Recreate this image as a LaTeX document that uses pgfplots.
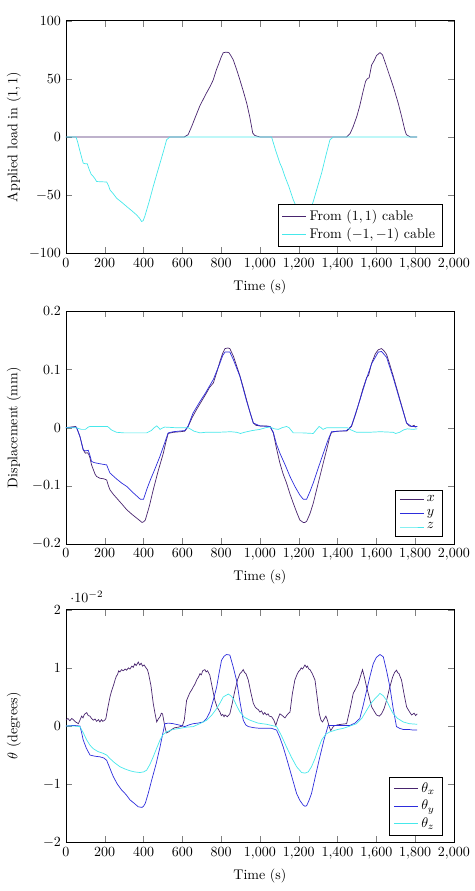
\documentclass[border=0pt]{standalone}
\usepackage{pgfplots}
\pgfplotsset{compat=1.18}

\definecolor{cpurple}{RGB}{72,36,110}
\definecolor{cblue}{RGB}{45,45,220}
\definecolor{ccyan}{RGB}{70,232,235}

\pgfplotsset{
  testaxis/.style={
    scale only axis,
    width=277.1pt, height=166.1pt,
    xmin=0, xmax=2000,
    xtick={0,200,...,2000},
    xlabel={Time (s)},
    ylabel style={at={(axis description cs:-0.134,0.5)}, anchor=center},
    legend style={at={(0.97,0.03)}, anchor=south east, legend cell align=left},
    every axis plot/.append style={no markers, line width=0.5pt},
  }
}

\begin{document}
\begin{tikzpicture}

% ---- Applied cable loads ----
\begin{axis}[testaxis, at={(0pt,0pt)}, anchor=south west,
  ymin=-100, ymax=100, ytick={-100,-50,0,50,100},
  ylabel={Applied load in $(1,1)$}]
\addplot[cpurple] coordinates {
(0,0) (610,0) (630,2) (648,9) (674,20) (691,27) (725,38) (745,44) (759,49)
(776,58) (790,64) (801,69) (811,72.5) (828,73) (840,72.5) (850,70) (862,66.5)
(880,58) (897,49) (915,39) (932,29) (948,17) (963,3.4) (972,1.5) (983,0.8)
(1000,0) (1447,0) (1465,3) (1481,9) (1500,18) (1515,27) (1530,38) (1545,48)
(1553,50) (1563,51) (1576,62) (1590,66) (1601,70) (1619,72.6) (1632,70.6)
(1650,62) (1670,52) (1690,42) (1713,29) (1730,18) (1747,6) (1755,2) (1765,1)
(1775,0) (1811,0)
};
\addlegendentry{From $(1,1)$ cable}
\addplot[ccyan] coordinates {
(0,0) (52,0) (60,-4) (72,-12) (89,-22.5) (100,-23) (110,-23) (120,-28)
(130,-32) (141,-34) (150,-36) (158,-38.3) (180,-38.5) (210,-38.7) (220,-42)
(227,-45.5) (245,-49) (261,-52.6) (290,-56.5) (313,-59.8) (340,-63.5)
(364,-67) (380,-70) (390,-72.7) (398,-72) (407,-68) (430,-55) (450,-42.6)
(470,-31) (485,-22.5) (505,-11) (519,-2.4) (536,0) (1060,0) (1080,-11)
(1103,-22.5) (1115,-27) (1129,-34) (1150,-43) (1172,-54) (1195,-63)
(1215,-70) (1232,-73) (1245,-70) (1260,-63) (1275,-55.5) (1295,-44)
(1318,-31) (1340,-16) (1361,-2.4) (1378,0) (1811,0)
};
\addlegendentry{From $(-1,-1)$ cable}
\end{axis}

% ---- Displacements ----
\begin{axis}[testaxis, at={(0pt,-207.6pt)}, anchor=south west,
  ymin=-0.2, ymax=0.2, ytick={-0.2,-0.1,0,0.1,0.2},
  ylabel={Displacement (mm)}]
\addplot[cpurple] coordinates {
(0,0) (50,0.002) (55,0) (72,-0.015) (89,-0.038) (100,-0.044) (110,-0.043)
(118,-0.046) (124,-0.052) (132,-0.064) (141,-0.072) (150,-0.080) (158,-0.084)
(175,-0.087) (195,-0.088) (210,-0.090) (218,-0.099) (227,-0.107) (245,-0.115)
(261,-0.121) (290,-0.132) (313,-0.141) (340,-0.149) (366,-0.156) (385,-0.161)
(392,-0.163) (400,-0.162) (409,-0.159) (430,-0.135) (450,-0.107) (475,-0.075)
(502,-0.044) (515,-0.025) (527,-0.010) (553,-0.008) (590,-0.007) (613,-0.006)
(630,0.002) (650,0.017) (673,0.031) (700,0.046) (725,0.060) (740,0.069)
(760,0.077) (780,0.098) (794,0.114) (808,0.128) (820,0.136) (835,0.137)
(845,0.136) (863,0.123) (880,0.106) (897,0.089) (915,0.068) (931,0.048)
(950,0.025) (966,0.008) (980,0.004) (1000,0.003) (1030,0.003) (1052,0.002)
(1069,-0.009) (1085,-0.035) (1103,-0.061) (1120,-0.080) (1137,-0.095)
(1155,-0.114) (1172,-0.130) (1190,-0.146) (1206,-0.159) (1223,-0.163)
(1232,-0.163) (1241,-0.161) (1258,-0.148) (1275,-0.130) (1292,-0.107)
(1309,-0.084) (1327,-0.060) (1344,-0.038) (1360,-0.016) (1369,-0.008)
(1400,-0.006) (1447,-0.006) (1472,0.002) (1495,0.025) (1515,0.048)
(1530,0.066) (1550,0.086) (1560,0.090) (1576,0.111) (1595,0.127)
(1610,0.134) (1627,0.136) (1640,0.132) (1653,0.126) (1670,0.108)
(1687,0.089) (1705,0.068) (1722,0.048) (1740,0.027) (1756,0.008)
(1770,0.003) (1782,0.002) (1795,0.004) (1800,0.001) (1811,0.002)
};
\addlegendentry{$x$}
\addplot[cblue] coordinates {
(0,0) (50,0.001) (55,0) (72,-0.015) (89,-0.038) (100,-0.040) (115,-0.039)
(124,-0.048) (132,-0.058) (145,-0.060) (158,-0.061) (190,-0.063) (210,-0.064)
(218,-0.071) (227,-0.078) (260,-0.088) (290,-0.096) (313,-0.101) (350,-0.113)
(383,-0.123) (400,-0.123) (418,-0.105) (435,-0.090) (460,-0.070) (485,-0.049)
(505,-0.030) (527,-0.009) (553,-0.007) (613,-0.005) (630,0.003) (655,0.025)
(691,0.045) (720,0.060) (760,0.083) (794,0.111) (808,0.124) (820,0.130)
(845,0.130) (863,0.117) (897,0.088) (931,0.046) (966,0.008) (1000,0.003)
(1052,0.002) (1069,-0.008) (1085,-0.028) (1103,-0.044) (1130,-0.064)
(1155,-0.084) (1180,-0.101) (1206,-0.116) (1223,-0.123) (1241,-0.123)
(1258,-0.110) (1275,-0.095) (1300,-0.070) (1327,-0.044) (1350,-0.022)
(1369,-0.007) (1447,-0.005) (1472,0.003) (1515,0.047) (1550,0.085)
(1576,0.110) (1610,0.130) (1627,0.131) (1653,0.121) (1687,0.086)
(1722,0.046) (1756,0.008) (1782,0.002) (1811,0.002)
};
\addlegendentry{$y$}
\addplot[ccyan] coordinates {
(0,0) (50,0) (60,-0.001) (80,-0.003) (100,-0.003) (115,0.001) (124,0.002)
(200,0.002) (215,0.002) (235,-0.004) (261,-0.008) (300,-0.009) (350,-0.009)
(416,-0.009) (440,-0.005) (455,0.000) (468,0.003) (478,0.000) (485,-0.003)
(495,-0.001) (510,0.001) (560,0.000) (630,0.000) (660,-0.006) (691,-0.009)
(720,-0.008) (780,-0.008) (850,-0.007) (880,-0.008) (900,-0.010) (920,-0.008)
(960,-0.005) (1000,-0.003) (1030,0.000) (1052,0.001) (1075,-0.002)
(1095,-0.003) (1115,0.000) (1137,0.002) (1150,0.000) (1172,-0.009)
(1220,-0.009) (1275,-0.010) (1290,-0.004) (1305,0.002) (1315,0.000)
(1325,-0.003) (1345,0.000) (1400,0.000) (1450,0.000) (1470,-0.004)
(1498,-0.008) (1560,-0.008) (1620,-0.007) (1687,-0.008) (1700,-0.010)
(1720,-0.008) (1740,-0.004) (1760,-0.002) (1790,-0.003) (1811,-0.002)
};
\addlegendentry{$z$}
\end{axis}

% ---- Rotations ----
\begin{axis}[testaxis, at={(0pt,-420.7pt)}, anchor=south west,
  ymin=-0.02, ymax=0.02, ytick={-0.02,-0.01,0,0.01,0.02},
  ylabel={$\theta$ (degrees)}]
\addplot[cpurple] coordinates {
(0,0.10e-2) (10,0.13e-2) (20,0.09e-2) (30,0.13e-2) (38,0.11e-2) (50,0.07e-2)
(64,0.04e-2) (72,0.10e-2) (81,0.17e-2) (88,0.14e-2) (95,0.20e-2)
(107,0.23e-2) (115,0.18e-2) (124,0.17e-2) (132,0.13e-2) (141,0.10e-2)
(150,0.12e-2) (158,0.08e-2) (168,0.11e-2) (175,0.07e-2) (183,0.11e-2)
(190,0.08e-2) (200,0.10e-2) (206,0.13e-2) (215,0.30e-2) (227,0.50e-2)
(235,0.60e-2) (240,0.65e-2) (247,0.72e-2) (253,0.79e-2) (260,0.86e-2)
(265,0.88e-2) (272,0.95e-2) (278,0.93e-2) (287,0.97e-2) (295,0.95e-2)
(305,0.98e-2) (313,0.96e-2) (322,1.00e-2) (330,0.98e-2) (340,1.03e-2)
(347,1.01e-2) (355,1.07e-2) (362,1.04e-2) (373,1.10e-2) (380,1.05e-2)
(388,1.08e-2) (395,1.03e-2) (403,1.05e-2) (413,1.00e-2) (420,0.97e-2)
(426,0.90e-2) (438,0.70e-2) (450,0.39e-2) (460,0.20e-2) (468,0.07e-2)
(476,0.12e-2) (485,0.16e-2) (492,0.22e-2) (498,0.21e-2) (505,0.08e-2)
(510,-0.01e-2) (518,-0.12e-2) (530,-0.10e-2) (545,-0.06e-2) (560,-0.03e-2)
(580,-0.02e-2) (600,0.00e-2) (610,0.10e-2) (622,0.44e-2) (632,0.52e-2)
(640,0.58e-2) (648,0.62e-2) (656,0.67e-2) (665,0.72e-2) (675,0.80e-2)
(683,0.84e-2) (691,0.90e-2) (698,0.88e-2) (705,0.95e-2) (716,0.97e-2)
(723,0.93e-2) (730,0.95e-2) (742,0.87e-2) (755,0.65e-2) (768,0.44e-2)
(780,0.32e-2) (787,0.28e-2) (794,0.24e-2) (801,0.18e-2) (808,0.20e-2)
(815,0.16e-2) (820,0.19e-2) (832,0.16e-2) (845,0.21e-2) (858,0.40e-2)
(871,0.61e-2) (885,0.80e-2) (897,0.90e-2) (906,0.93e-2) (914,0.97e-2)
(921,0.92e-2) (928,0.90e-2) (940,0.79e-2) (953,0.58e-2) (966,0.39e-2)
(975,0.33e-2) (983,0.30e-2) (992,0.28e-2) (1000,0.24e-2) (1008,0.26e-2)
(1017,0.20e-2) (1025,0.23e-2) (1034,0.19e-2) (1042,0.21e-2) (1048,0.17e-2)
(1060,0.16e-2) (1072,0.10e-2) (1082,0.01e-2) (1092,0.12e-2) (1103,0.21e-2)
(1115,0.18e-2) (1129,0.14e-2) (1142,0.20e-2) (1155,0.24e-2) (1167,0.55e-2)
(1180,0.79e-2) (1193,0.90e-2) (1200,0.94e-2) (1206,0.96e-2) (1213,1.00e-2)
(1220,0.98e-2) (1232,1.05e-2) (1240,1.01e-2) (1245,1.03e-2) (1252,0.98e-2)
(1258,0.97e-2) (1270,0.90e-2) (1284,0.79e-2) (1295,0.50e-2) (1306,0.21e-2)
(1315,0.10e-2) (1323,0.07e-2) (1331,0.12e-2) (1340,0.17e-2) (1348,0.10e-2)
(1357,-0.01e-2) (1365,-0.08e-2) (1380,0.00e-2) (1400,0.02e-2) (1420,0.03e-2)
(1447,0.04e-2) (1465,0.30e-2) (1481,0.56e-2) (1495,0.65e-2) (1507,0.73e-2)
(1518,0.85e-2) (1529,0.97e-2) (1540,0.82e-2) (1550,0.67e-2) (1563,0.50e-2)
(1576,0.33e-2) (1590,0.25e-2) (1601,0.19e-2) (1615,0.17e-2) (1627,0.21e-2)
(1640,0.30e-2) (1653,0.44e-2) (1668,0.65e-2) (1684,0.84e-2) (1694,0.92e-2)
(1704,0.96e-2) (1710,0.92e-2) (1717,0.90e-2) (1730,0.79e-2) (1743,0.55e-2)
(1756,0.33e-2) (1770,0.25e-2) (1782,0.19e-2) (1795,0.22e-2) (1803,0.18e-2)
(1811,0.21e-2)
};
\addlegendentry{$\theta_x$}
\addplot[cblue] coordinates {
(0,0) (40,0.01e-2) (72,0.00e-2) (80,-0.10e-2) (89,-0.24e-2) (105,-0.38e-2)
(124,-0.50e-2) (150,-0.52e-2) (175,-0.53e-2) (195,-0.55e-2) (210,-0.59e-2)
(227,-0.73e-2) (244,-0.87e-2) (265,-1.00e-2) (287,-1.10e-2) (310,-1.18e-2)
(330,-1.27e-2) (352,-1.33e-2) (373,-1.39e-2) (392,-1.40e-2) (400,-1.38e-2)
(409,-1.33e-2) (425,-1.15e-2) (442,-0.93e-2) (465,-0.65e-2) (485,-0.36e-2)
(498,-0.15e-2) (510,0.04e-2) (530,0.05e-2) (553,0.04e-2) (580,0.02e-2)
(613,-0.01e-2) (635,0.02e-2) (656,0.04e-2) (680,0.05e-2) (708,0.07e-2)
(725,0.13e-2) (742,0.24e-2) (760,0.45e-2) (777,0.67e-2) (790,0.92e-2)
(802,1.13e-2) (815,1.20e-2) (828,1.23e-2) (845,1.22e-2) (862,1.02e-2)
(880,0.78e-2) (897,0.42e-2) (914,0.10e-2) (927,0.02e-2) (940,-0.01e-2)
(970,-0.03e-2) (1000,-0.04e-2) (1030,-0.04e-2) (1060,-0.04e-2)
(1086,-0.07e-2) (1103,-0.20e-2) (1120,-0.36e-2) (1137,-0.55e-2)
(1155,-0.76e-2) (1172,-0.96e-2) (1189,-1.16e-2) (1206,-1.28e-2)
(1223,-1.36e-2) (1232,-1.38e-2) (1241,-1.37e-2) (1253,-1.28e-2)
(1266,-1.16e-2) (1287,-0.85e-2) (1309,-0.53e-2) (1330,-0.24e-2)
(1352,0.01e-2) (1400,0.01e-2) (1440,0.01e-2) (1464,0.01e-2) (1490,0.05e-2)
(1515,0.13e-2) (1532,0.35e-2) (1550,0.61e-2) (1567,0.85e-2) (1584,1.07e-2)
(1600,1.18e-2) (1619,1.23e-2) (1636,1.19e-2) (1653,0.95e-2) (1670,0.67e-2)
(1687,0.30e-2) (1704,-0.01e-2) (1720,-0.04e-2) (1739,-0.06e-2)
(1770,-0.06e-2) (1790,-0.07e-2) (1811,-0.07e-2)
};
\addlegendentry{$\theta_y$}
\addplot[ccyan] coordinates {
(0,0) (40,0.00e-2) (72,-0.01e-2) (90,-0.12e-2) (107,-0.24e-2) (124,-0.33e-2)
(141,-0.39e-2) (165,-0.44e-2) (192,-0.47e-2) (210,-0.50e-2) (227,-0.56e-2)
(250,-0.63e-2) (278,-0.70e-2) (305,-0.74e-2) (330,-0.77e-2) (355,-0.79e-2)
(381,-0.80e-2) (400,-0.79e-2) (416,-0.76e-2) (433,-0.66e-2) (450,-0.53e-2)
(468,-0.38e-2) (485,-0.24e-2) (500,-0.15e-2) (519,-0.10e-2) (550,-0.06e-2)
(588,-0.04e-2) (620,-0.02e-2) (656,-0.01e-2) (690,0.04e-2) (725,0.10e-2)
(750,0.18e-2) (777,0.30e-2) (795,0.40e-2) (811,0.50e-2) (837,0.55e-2)
(850,0.52e-2) (863,0.47e-2) (880,0.35e-2) (897,0.24e-2) (920,0.15e-2)
(949,0.10e-2) (990,0.05e-2) (1034,0.03e-2) (1060,0.01e-2) (1086,-0.01e-2)
(1110,-0.16e-2) (1137,-0.36e-2) (1163,-0.54e-2) (1189,-0.70e-2)
(1215,-0.80e-2) (1232,-0.81e-2) (1249,-0.79e-2) (1266,-0.70e-2)
(1284,-0.56e-2) (1300,-0.40e-2) (1318,-0.24e-2) (1340,-0.14e-2)
(1361,-0.10e-2) (1400,-0.06e-2) (1430,-0.04e-2) (1465,0.00e-2)
(1498,0.04e-2) (1525,0.13e-2) (1550,0.27e-2) (1570,0.38e-2) (1593,0.47e-2)
(1619,0.56e-2) (1636,0.52e-2) (1653,0.44e-2) (1670,0.32e-2) (1687,0.21e-2)
(1710,0.13e-2) (1739,0.07e-2) (1770,0.04e-2) (1811,0.03e-2)
};
\addlegendentry{$\theta_z$}
\end{axis}

% white margin around the three panels
\path (-47.1pt,180.9pt) rectangle (292.1pt,-455.5pt);
\end{tikzpicture}
\end{document}
